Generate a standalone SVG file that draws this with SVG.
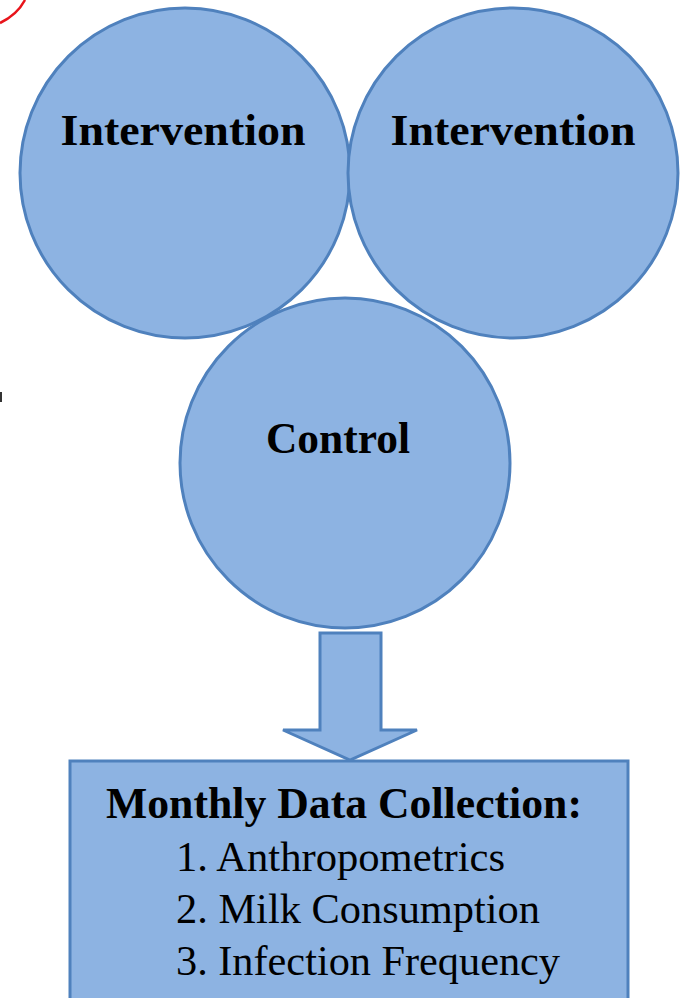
<svg xmlns="http://www.w3.org/2000/svg" width="684" height="998" viewBox="0 0 684 998">
<style>
.shape{fill:#8DB3E2;stroke:#4F81BD;stroke-width:3}
.t{font-family:"Liberation Serif","Times New Roman",serif;fill:#000}
.b{font-weight:bold;font-size:44px}
.r{font-size:42px}
</style>
<rect width="684" height="998" fill="#fff"/>
<path d="M0,23 Q17,15 25,0" fill="none" stroke="#E8141B" stroke-width="2.5"/>
<rect x="0" y="392" width="2" height="10" fill="#333"/>
<g id="intervention1">
<circle class="shape" cx="185" cy="173" r="165"/>
<text class="t b" x="183" y="145" text-anchor="middle" textLength="245" lengthAdjust="spacingAndGlyphs">Intervention</text>
</g>
<g id="intervention2">
<circle class="shape" cx="513" cy="173" r="165"/>
<text class="t b" x="513" y="145" text-anchor="middle" textLength="245" lengthAdjust="spacingAndGlyphs">Intervention</text>
</g>
<g id="control">
<circle class="shape" cx="345" cy="463" r="165"/>
<text class="t b" x="338" y="453" text-anchor="middle" textLength="144" lengthAdjust="spacingAndGlyphs">Control</text>
</g>
<g id="connectors">
<path class="shape" d="M320,633 L381,633 L381,730 L417,730 L350,760 L283,730 L320,730 Z" stroke-linejoin="miter"/>
</g>
<g id="data-collection">
<rect class="shape" x="70" y="761" width="558" height="245"/>
<text class="t b" x="344" y="818" text-anchor="middle" textLength="476" lengthAdjust="spacingAndGlyphs">Monthly Data Collection:</text>
<text class="t r" x="176" y="871" textLength="329" lengthAdjust="spacingAndGlyphs">1. Anthropometrics</text>
<text class="t r" x="176" y="923" textLength="364" lengthAdjust="spacingAndGlyphs">2. Milk Consumption</text>
<text class="t r" x="176" y="975" textLength="384" lengthAdjust="spacingAndGlyphs">3. Infection Frequency</text>
</g>
</svg>
